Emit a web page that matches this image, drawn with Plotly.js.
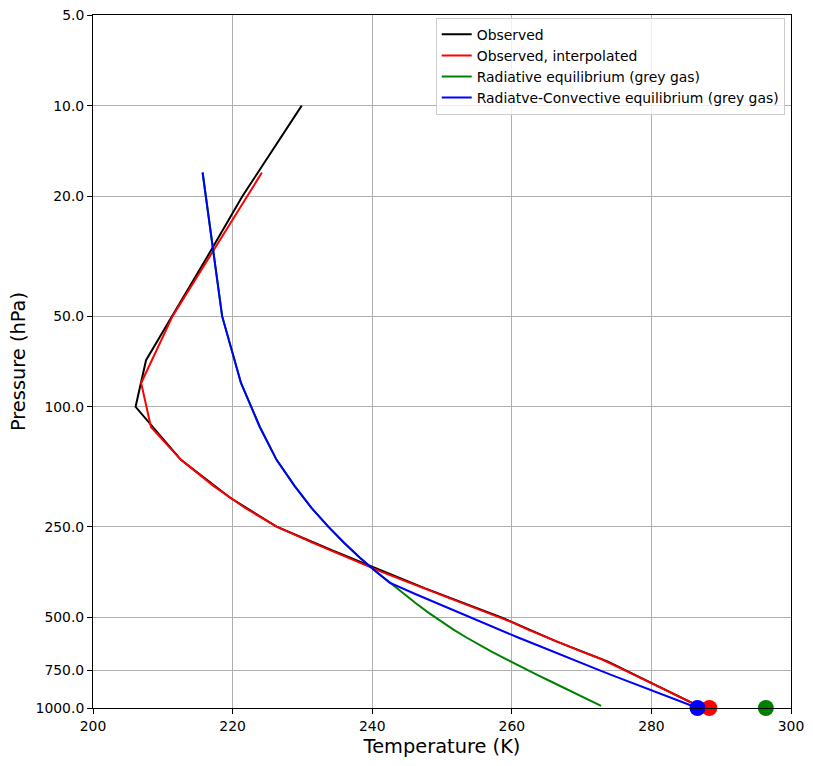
<!DOCTYPE html>
<html>
<head>
<meta charset="utf-8">
<script src="https://cdn.plot.ly/plotly-3.0.1.min.js"></script>
<style>
  html, body { margin: 0; padding: 0; background: #fff; }
  #chart { width: 813px; height: 766px; }
</style>
</head>
<body>
<div id="chart"></div>
<script>
// observed global mean temperature at standard pressure levels
var levelsObs = [10, 20, 30, 50, 70, 100, 150, 200, 250, 300, 400, 500, 600, 700, 850, 925, 1000];
var tempObs = [229.9, 221.4, 217.0, 211.4, 207.6, 206.1, 212.6, 219.6, 226.3, 234.3, 247.5, 258.5, 266.3, 273.7, 281.2, 284.4, 287.3];

// 30 model levels
var levelsModel = [16.67, 50, 83.33, 116.67, 150, 183.33, 216.67, 250, 283.33, 316.67,
                   350, 383.33, 416.67, 450, 483.33, 516.67, 550, 583.33, 616.67, 650,
                   683.33, 716.67, 750, 783.33, 816.67, 850, 883.33, 916.67, 950, 983.33];

var tempInterp = [224.2, 211.4, 206.9, 208.3, 212.6, 217.3, 221.8, 226.3, 231.6, 236.5,
                  240.9, 245.3, 249.3, 253.0, 256.7, 259.8, 262.4, 265.0, 267.5, 270.0,
                  272.5, 274.5, 276.2, 277.9, 279.5, 281.2, 282.6, 284.0, 285.4, 286.7];

var tempRE = [215.7, 218.5, 221.2, 223.9, 226.3, 228.9, 231.3, 233.7, 236.0, 238.2,
              240.4, 242.5, 244.4, 246.3, 248.1, 249.9, 251.7, 253.5, 255.3, 257.1,
              258.9, 260.6, 262.3, 264.0, 265.6, 267.1, 268.6, 270.0, 271.4, 272.8];

var tempRCE = [215.7, 218.5, 221.2, 223.9, 226.3, 228.9, 231.3, 233.7, 236.0, 238.2,
               240.4, 242.5, 246.0, 249.4, 252.5, 255.4, 258.2, 260.9, 263.5, 265.9,
               268.2, 270.5, 272.6, 274.7, 276.7, 278.6, 280.5, 282.3, 284.1, 285.8];

// surface temperatures
var tsObs = 288.3;
var tsRE = 296.4;
var tsRCE = 286.6;
var psurf = 1000;

var pTicks = [5, 10, 20, 50, 100, 250, 500, 750, 1000];
var pTickText = ['5.0', '10.0', '20.0', '50.0', '100.0', '250.0', '500.0', '750.0', '1000.0'];

function line(x, y, color, name) {
    return {type: 'scatter', mode: 'lines', x: x, y: y, name: name,
            line: {color: color, width: 2}};
}
function dot(t, color) {
    return {type: 'scatter', mode: 'markers', x: [t], y: [psurf], showlegend: false,
            cliponaxis: false, marker: {color: color, size: 16}};
}

var data = [
    line(tempObs, levelsObs, '#000000', 'Observed'),
    line(tempInterp, levelsModel, '#ff0000', 'Observed, interpolated'),
    line(tempRE, levelsModel, '#008000', 'Radiative equilibrium (grey gas)'),
    line(tempRCE, levelsModel, '#0000ff', 'Radiatve-Convective equilibrium (grey gas)'),
    dot(tsObs, '#ff0000'),
    dot(tsRE, '#008000'),
    dot(tsRCE, '#0000ff')
];

var axisStyle = {
    showline: true, linecolor: '#000', linewidth: 1, mirror: true,
    ticks: 'outside', ticklen: 5, tickwidth: 1, tickcolor: '#000',
    showgrid: true, gridcolor: '#b0b0b0', gridwidth: 1, zeroline: false,
    tickfont: {family: 'DejaVu Sans', size: 13.9, color: '#000'}
};

var layout = {
    width: 813, height: 766,
    margin: {l: 93, r: 22, t: 15, b: 58},
    paper_bgcolor: '#fff', plot_bgcolor: '#fff',
    font: {family: 'DejaVu Sans', color: '#000'},
    showlegend: true,
    legend: {
        x: 0.991, y: 0.996, xanchor: 'right', yanchor: 'top',
        bgcolor: 'rgba(255,255,255,0.8)', bordercolor: '#cccccc', borderwidth: 1,
        font: {family: 'DejaVu Sans', size: 13.9, color: '#000'}
    },
    xaxis: Object.assign({}, axisStyle, {
        range: [200, 300], tick0: 200, dtick: 20,
        title: {text: 'Temperature (K)', font: {family: 'DejaVu Sans', size: 19.4}, standoff: 6}
    }),
    yaxis: Object.assign({}, axisStyle, {
        type: 'log', range: [Math.log10(1000), Math.log10(5)],
        tickvals: pTicks, ticktext: pTickText,
        title: {text: 'Pressure (hPa)', font: {family: 'DejaVu Sans', size: 19.4}, standoff: 4}
    })
};

Plotly.newPlot('chart', data, layout, {displayModeBar: false});
</script>
</body>
</html>
